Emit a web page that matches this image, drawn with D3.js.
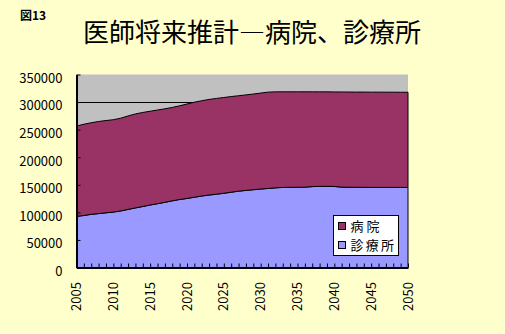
<!DOCTYPE html>
<html>
<head>
<meta charset="utf-8">
<script src="https://cdn.jsdelivr.net/npm/d3@7"></script>
<style>
  html, body { margin: 0; padding: 0; background: #FFFFCC; }
  svg { display: block; }
  text { font-family: "Noto Sans CJK JP", "Noto Sans", sans-serif; fill: #000; }
</style>
</head>
<body>
<svg id="chart" width="505" height="334"></svg>
<script>
// Projected number of physicians, by place of work (stacked)
const years = d3.range(2005, 2051);
const clinic = [
  92700, 94300, 96400, 97700, 99200, 100500, 102500, 105300, 108000, 110600,
  113300, 115700, 118200, 120900, 123300, 125200, 127400, 129600, 131400, 132900,
  134600, 136500, 138400, 139800, 141000, 142300, 143300, 144400, 145200, 145400,
  145500, 145700, 146700, 147100, 147200, 147000, 145700, 145500, 145400, 145400,
  145300, 145300, 145300, 145200, 145200, 145200
];
const hospital = [
  163900, 165500, 166100, 167100, 167300, 167500, 168300, 169500, 170500, 170600,
  170100, 169900, 169600, 169400, 169900, 171300, 172400, 172800, 173400, 173700,
  173700, 173500, 173100, 173200, 173600, 174000, 174700, 174100, 173400, 173200,
  173100, 172900, 171900, 171400, 171300, 171400, 172600, 172700, 172700, 172700,
  172700, 172700, 172600, 172700, 172600, 172600
];
const yTicks = [0, 50000, 100000, 150000, 200000, 250000, 300000, 350000];
const xLabels = [2005, 2010, 2015, 2020, 2025, 2030, 2035, 2040, 2045, 2050];
const seriesNames = ["病院", "診療所"];
const seriesColors = { "病院": "#993366", "診療所": "#9999FF" };

const rows = years.map((yr, i) => ({ year: yr, "診療所": clinic[i], "病院": hospital[i] }));

const svg = d3.select("#chart");
const plotL = 76.5, plotR = 408, plotT = 74.5, plotB = 267.5;

const x = d3.scaleLinear().domain([2005, 2050]).range([plotL, plotR]);
const y = d3.scaleLinear().domain([0, 350000]).range([plotB, plotT]);

// plot area background
svg.append("rect")
  .attr("x", plotL).attr("y", plotT)
  .attr("width", plotR - plotL).attr("height", plotB - plotT)
  .attr("fill", "#C0C0C0");

// horizontal gridlines
svg.append("g").selectAll("line")
  .data(yTicks.filter(v => v > 0 && v < 350000))
  .join("line")
  .attr("x1", plotL).attr("x2", plotR)
  .attr("y1", d => Math.round(y(d)) + 0.5).attr("y2", d => Math.round(y(d)) + 0.5)
  .attr("stroke", "#000").attr("stroke-width", 1);

// stacked areas: clinics at the bottom, hospitals on top
const stack = d3.stack().keys(["診療所", "病院"]);
const layers = stack(rows);
const area = d3.area()
  .x(d => x(d.data.year))
  .y0(d => y(d[0]))
  .y1(d => y(d[1]));

svg.append("g").selectAll("path")
  .data(layers)
  .join("path")
  .attr("d", area)
  .attr("fill", d => seriesColors[d.key])
  .attr("stroke", "#000")
  .attr("stroke-width", 1)
  .attr("stroke-linejoin", "miter");

// y axis
const yAxis = d3.axisLeft(y).tickValues(yTicks).tickSizeInner(-4).tickSizeOuter(0).tickPadding(14)
  .tickFormat(d3.format("d"));
const gy = svg.append("g").attr("transform", `translate(${plotL},0)`).call(yAxis);
gy.select(".domain").attr("stroke", "#000").attr("stroke-width", 2);
gy.selectAll(".tick line").attr("stroke", "#000").attr("stroke-width", 1);
gy.selectAll(".tick text")
  .attr("font-size", 13)
  .attr("dy", "0.6em")
  .style("font-family", '"Noto Sans CJK JP", sans-serif');

// x axis: a tick each year, labels every five years
const xAxis = d3.axisBottom(x).tickValues(years).tickSizeInner(-4).tickSizeOuter(0).tickFormat("");
const gx = svg.append("g").attr("transform", `translate(0,${plotB})`).call(xAxis);
gx.select(".domain").attr("stroke", "#000").attr("stroke-width", 2);
gx.selectAll(".tick line").attr("stroke", "#000").attr("stroke-width", 1);

svg.append("g").selectAll("text")
  .data(xLabels)
  .join("text")
  .attr("transform", d => `translate(${x(d)},282) rotate(-90)`)
  .attr("text-anchor", "end")
  .attr("dy", "0.35em")
  .attr("font-size", 13)
  .text(d => d);

// legend
const lg = svg.append("g").attr("transform", "translate(333.5,215.5)");
lg.append("rect").attr("width", 65).attr("height", 40)
  .attr("fill", "#fff").attr("stroke", "#000").attr("stroke-width", 1);
seriesNames.forEach((name, i) => {
  const row = lg.append("g").attr("transform", `translate(0,${i * 19})`);
  row.append("rect").attr("x", 5).attr("y", 7).attr("width", 7).attr("height", 7)
    .attr("fill", seriesColors[name]).attr("stroke", "#000").attr("stroke-width", 1);
  row.append("text").attr("x", 17).attr("y", 11).attr("dy", "0.35em")
    .attr("font-size", 13).attr("textLength", name.length * 14.5)
    .text(name);
});

// titles
svg.append("text").attr("x", 20).attr("y", 20)
  .attr("font-size", 12).attr("font-weight", "bold").text("図13");
svg.append("text").attr("x", 252).attr("y", 33).attr("dy", "0.35em")
  .attr("text-anchor", "middle").attr("font-size", 26)
  .text("医師将来推計―病院、診療所");
</script>
</body>
</html>
